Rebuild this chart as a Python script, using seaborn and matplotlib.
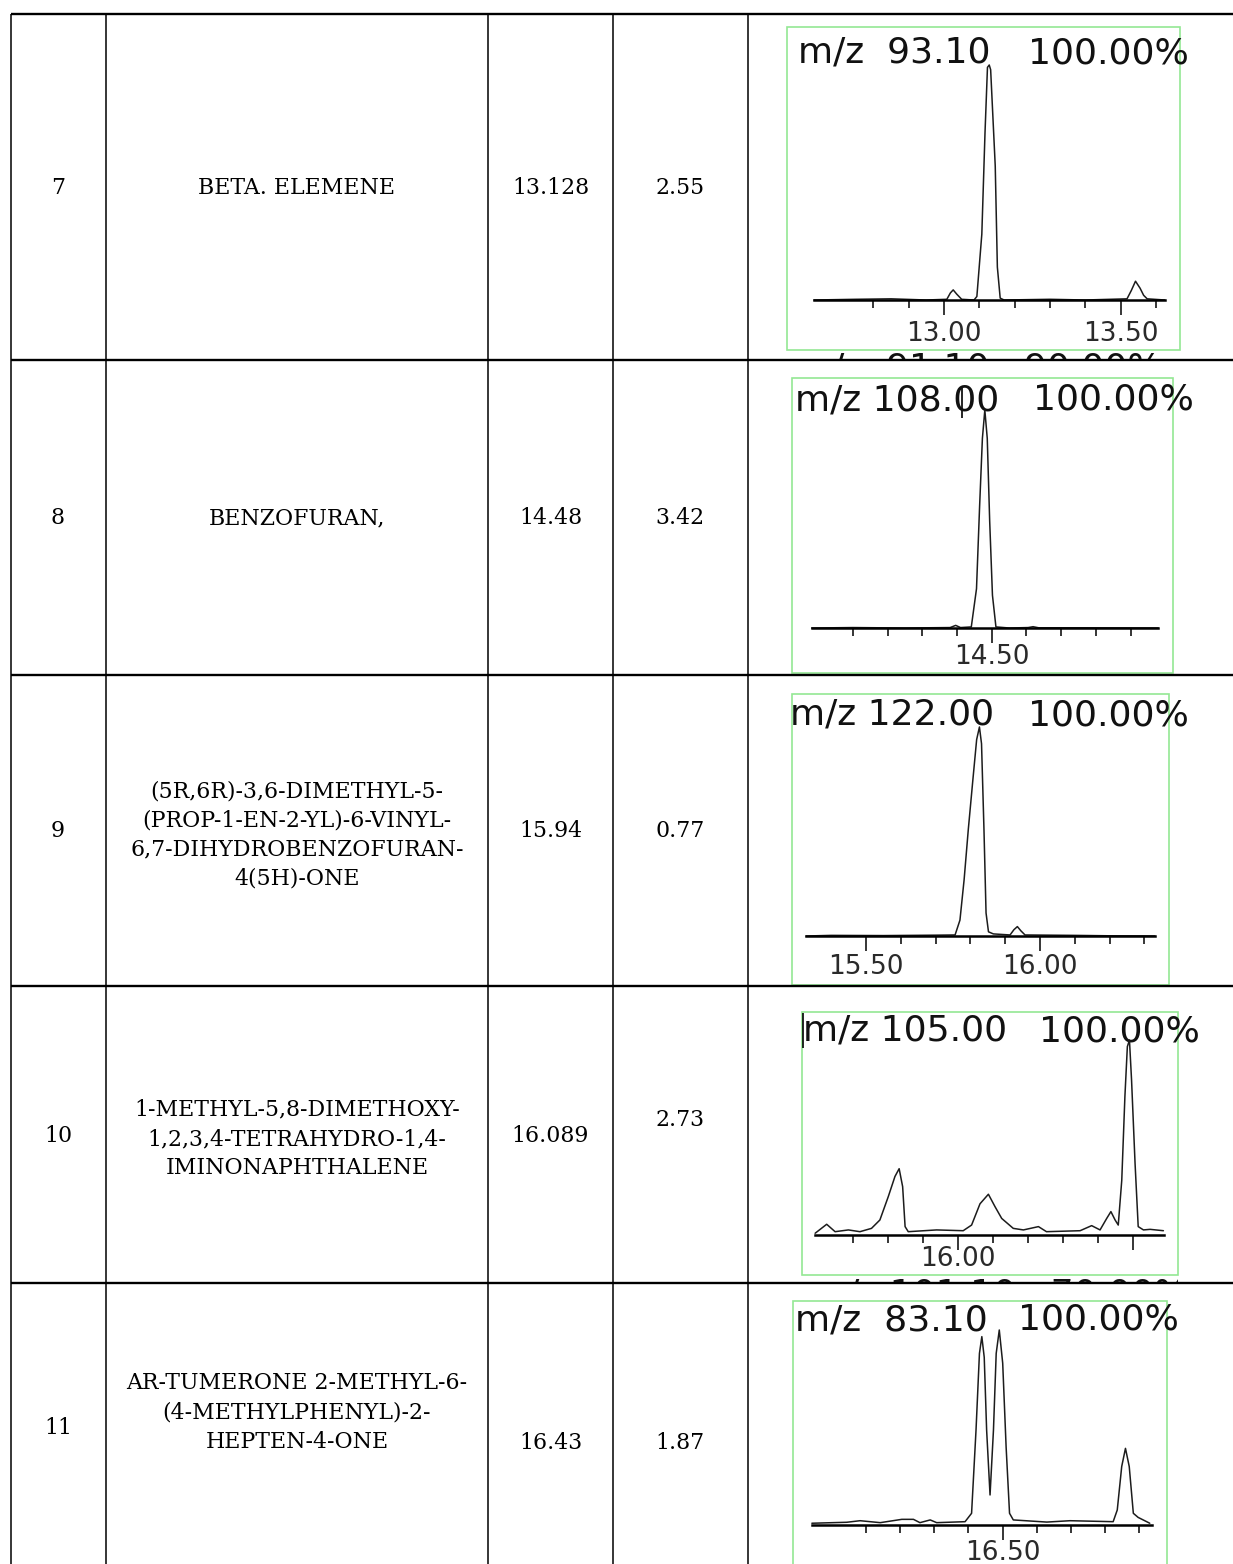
import numpy as np
import pandas as pd
import seaborn as sns
import matplotlib.pyplot as plt
from matplotlib.patches import Rectangle

# table rows
row_no = ['7', '8', '9', '10', '11']
compounds = [
    'BETA. ELEMENE',
    'BENZOFURAN,',
    '(5R,6R)-3,6-DIMETHYL-5-\n(PROP-1-EN-2-YL)-6-VINYL-\n6,7-DIHYDROBENZOFURAN-\n4(5H)-ONE',
    '1-METHYL-5,8-DIMETHOXY-\n1,2,3,4-TETRAHYDRO-1,4-\nIMINONAPHTHALENE',
    'AR-TUMERONE 2-METHYL-6-\n(4-METHYLPHENYL)-2-\nHEPTEN-4-ONE',
]
ret_time = ['13.128', '14.48', '15.94', '16.089', '16.43']
peak_area = ['2.55', '3.42', '0.77', '2.73', '1.87']

# ion chromatogram headers
mz_ion = ['m/z  93.10', 'm/z 108.00', 'm/z 122.00', 'm/z 105.00', 'm/z  83.10']
rel_abund = ['100.00%', '100.00%', '100.00%', '100.00%', '100.00%']
next_header = ['m/z  91.10   90.00%', 'm/z 101.10   70.00%']

# ion traces (retention time, relative intensity %)
rt7 = [12.632, 12.75, 12.85, 12.95, 13.008, 13.018, 13.026, 13.036, 13.05, 13.085,
       13.093, 13.107, 13.116, 13.123, 13.128, 13.132, 13.145, 13.151, 13.159, 13.17,
       13.30, 13.40, 13.518, 13.53, 13.542, 13.555, 13.565, 13.575, 13.625]
i7 = [0, 0.3, 0.5, 0, 0.3, 3, 4.3, 2.5, 0.3, 0,
      1.5, 28, 71, 99, 100, 98, 57, 14, 0.8, 0,
      0.3, 0, 0.5, 4, 8, 5, 2, 0.5, 0]

rt8 = [13.981, 14.10, 14.25, 14.38, 14.396, 14.41, 14.441, 14.456, 14.465, 14.473,
       14.480, 14.487, 14.494, 14.502, 14.512, 14.55, 14.605, 14.619, 14.635, 14.75, 14.98]
i8 = [0, 0.2, 0, 0.2, 1.2, 0.2, 0.5, 18, 56, 87,
      100, 87, 49, 15, 0.5, 0, 0.2, 0.6, 0.1, 0.1, 0]

rt9 = [15.328, 15.40, 15.55, 15.70, 15.756, 15.770, 15.782, 15.794, 15.807, 15.818,
       15.826, 15.832, 15.839, 15.845, 15.852, 15.866, 15.914, 15.925, 15.935, 15.945,
       15.957, 16.10, 16.20, 16.33]
i9 = [0, 0.3, 0.2, 0.4, 0.5, 7.6, 27, 51, 74.5, 94,
      100, 92, 51, 11, 2, 1, 0.5, 3, 4.5, 2.5,
      0.5, 0.3, 0.1, 0]

rt10 = [15.591, 15.624, 15.648, 15.686, 15.719, 15.752, 15.776, 15.80, 15.819, 15.831,
        15.841, 15.848, 15.857, 15.938, 16.014, 16.038, 16.062, 16.086, 16.105, 16.124,
        16.157, 16.186, 16.229, 16.252, 16.348, 16.381, 16.405, 16.424, 16.436, 16.448,
        16.457, 16.467, 16.476, 16.483, 16.489, 16.495, 16.505, 16.514, 16.529, 16.548, 16.586]
i10 = [0.9, 5.5, 1.7, 2.6, 1.7, 3.4, 7.7, 19.7, 30, 34,
       24.8, 4.3, 1.7, 2.6, 2.2, 5.1, 16, 20.9, 14.5, 8.5,
       3.4, 2.6, 4.3, 1.7, 2.2, 4.8, 2.6, 8.5, 12, 7.7,
       5.1, 28, 71, 96.6, 100, 79.5, 36.8, 4.3, 2.6, 2.9, 2.2]

rt11 = [15.942, 16.044, 16.083, 16.142, 16.205, 16.239, 16.258, 16.288, 16.307, 16.39,
        16.409, 16.422, 16.432, 16.439, 16.446, 16.453, 16.463, 16.473, 16.481, 16.490,
        16.500, 16.510, 16.520, 16.531, 16.629, 16.697, 16.823, 16.835, 16.848, 16.859,
        16.870, 16.882, 16.896, 16.921, 16.93]
i11 = [0.9, 1.4, 2.2, 1.2, 2.9, 2.9, 1.2, 2.6, 1.2, 1.7,
       6, 48.7, 88, 96.6, 86, 48.7, 15.4, 48.7, 88, 100,
       83, 40, 6, 2.6, 1.5, 2.2, 1.7, 7.7, 30, 39.3,
       30, 6, 3.9, 1.7, 0.9]

traces = [(rt7, i7), (rt8, i8), (rt9, i9), (rt10, i10), (rt11, i11)]

# axis ranges and ticks of each chromatogram
xlims = [(12.632, 13.6255), (13.981, 14.98), (15.3276, 16.3305), (15.5906, 16.5877), (15.9415, 16.9357)]
major_ticks = [[13.0, 13.5], [14.5], [15.5, 16.0], [16.0, 16.5], [16.5]]
major_labels = [['13.00', '13.50'], ['14.50'], ['15.50', '16.00'], ['16.00', ''], ['16.50']]
minor_ticks = [[12.8, 12.9, 13.1, 13.2, 13.3, 13.4, 13.6],
               [14.1, 14.2, 14.3, 14.4, 14.6, 14.7, 14.8, 14.9],
               [15.6, 15.7, 15.8, 15.9, 16.1, 16.2, 16.3],
               [15.7, 15.8, 15.9, 16.1, 16.2, 16.3, 16.4],
               [16.1, 16.2, 16.3, 16.4, 16.6, 16.7, 16.8, 16.9]]

# layout in pixels
W, H = 1233, 1564
row_lines = [14, 360, 674.5, 986, 1283]
col_lines = [10.5, 106, 488, 613, 747.5]
col_x = [58, 297, 550.5, 680]
text_y = [[188, 188, 188, 188], [518, 518, 518, 518], [831, 835, 831, 831],
          [1136.5, 1139, 1136.5, 1120], [1428, 1412.5, 1443, 1443]]
frames = [(787, 27, 1180, 350), (792, 378, 1173, 673), (792, 694, 1169, 985),
          (802, 1012, 1178, 1275), (793, 1301, 1167, 1600)]
axis_x = [(814, 1165), (811.7, 1158.3), (806, 1155), (815, 1164), (811.7, 1151.7)]
axis_y = [(300, 65), (628, 410), (936, 727), (1235, 1040), (1525, 1330)]
tick_pad = [4, 0.5, 2, -3, -0.5]
head_y = [63, 410, 725, 1041, 1330]
mz_x = [798, 795, 790, 803, 795]
pct_x = [1028, 1033, 1028, 1039, 1018]


def fbox(x0, y0, x1, y1):
    return [x0 / W, 1 - y1 / H, (x1 - x0) / W, (y1 - y0) / H]


sns.set_style('white')
plt.rcParams['font.family'] = ['DejaVu Sans']

fig = plt.figure(figsize=(W / 100, H / 100), dpi=100)
bg = fig.add_axes([0, 0, 1, 1])
bg.set_xlim(0, W)
bg.set_ylim(H, 0)
bg.axis('off')

# table grid
bg.hlines(row_lines, col_lines[0], W, color='black', lw=1.7)
bg.vlines(col_lines, row_lines[0], H, color='black', lw=1.1)

# table text
for r in range(5):
    cells = [row_no[r], compounds[r], ret_time[r], peak_area[r]]
    for c in range(4):
        bg.text(col_x[c], text_y[r][c], cells[c], ha='center', va='center',
                family='DejaVu Serif', fontsize=15.8, linespacing=1.42, color='black')

# white of the pasted image in row 10 hides part of the grid line
bg.add_patch(Rectangle((783, 983), 425, 25, facecolor='white', edgecolor='none'))

green = '#94e894'
for k in range(5):
    fx0, fy0, fx1, fy1 = frames[k]
    bg.add_patch(Rectangle((fx0, fy0), fx1 - fx0, fy1 - fy0, facecolor='white',
                           edgecolor=green, lw=1.2))
    bg.text(mz_x[k], head_y[k], mz_ion[k], fontsize=26, va='baseline', color='#111111')
    bg.text(pct_x[k], head_y[k], rel_abund[k], fontsize=26, va='baseline', color='#111111')

    ax = fig.add_axes(fbox(axis_x[k][0], axis_y[k][1], axis_x[k][1], axis_y[k][0]))
    ax.patch.set_alpha(0)
    df = pd.DataFrame({'rt': traces[k][0], 'abund': traces[k][1]})
    sns.lineplot(data=df, x='rt', y='abund', ax=ax, color='#1c1c1c', lw=1.1,
                 sort=False, estimator=None)
    for ln in ax.lines:
        ln.set_clip_on(False)
    ax.set_xlim(*xlims[k])
    ax.set_ylim(0, 100)
    for s in ['top', 'left', 'right']:
        ax.spines[s].set_visible(False)
    ax.spines['bottom'].set_linewidth(1.8)
    ax.spines['bottom'].set_color('black')
    ax.set_yticks([])
    ax.set_xticks(major_ticks[k])
    ax.set_xticklabels(major_labels[k])
    ax.set_xticks(minor_ticks[k], minor=True)
    ax.tick_params(axis='x', which='major', direction='out', length=11, width=1.3,
                   pad=tick_pad[k], labelsize=19, labelcolor='#2a2a2a', bottom=True)
    ax.tick_params(axis='x', which='minor', direction='out', length=6, width=1.3, bottom=True)
    ax.set_xlabel('')
    ax.set_ylabel('')

# cursor marks left in the pasted images
bg.vlines([962, 803], [387, 1013], [418, 1048], color='black', lw=1.2)

# tops of the next image's header peeking out below rows 7 and 10
for (y0, y1, fx0, fx1), txt in zip([(351, 359, 787, 1180), (1276, 1282, 802, 1178)], next_header):
    cax = fig.add_axes(fbox(fx0, y0, fx1, y1))
    cax.set_xlim(fx0, fx1)
    cax.set_ylim(y1, y0)
    cax.axis('off')
    t = cax.text(fx0 + 10, y0 + 28, txt, fontsize=26, va='baseline', color='#111111')
    t.set_clip_box(cax.bbox)
    t.set_clip_on(True)

fig.savefig('out.png', dpi=100)
